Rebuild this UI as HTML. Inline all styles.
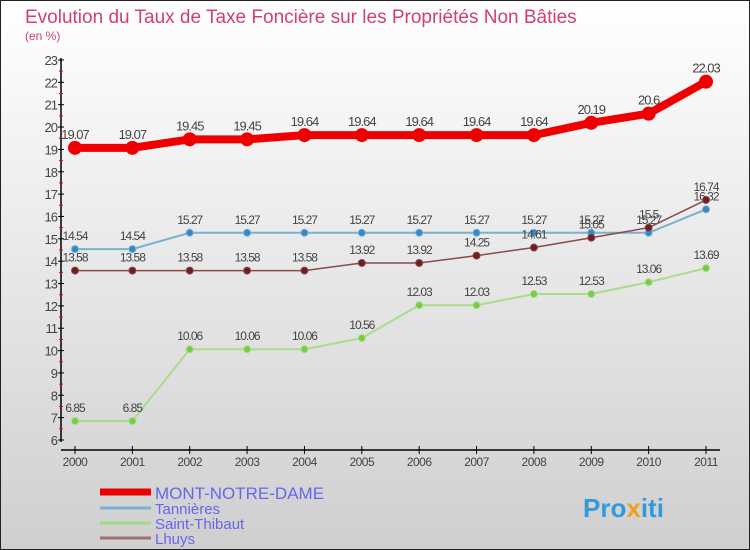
<!DOCTYPE html>
<html><head><meta charset="utf-8"><style>
body{margin:0}
#c{width:750px;height:550px;position:relative;overflow:hidden;font-family:"Liberation Sans",sans-serif}
</style></head><body>
<div id="c">
<svg id="s" width="750" height="550" xmlns="http://www.w3.org/2000/svg">
<defs><linearGradient id="bg" x1="0" y1="0" x2="0" y2="1"><stop offset="0" stop-color="#ffffff"/><stop offset="1" stop-color="#cfcfcf"/></linearGradient></defs>
<rect x="0.5" y="0.5" width="749" height="549" fill="url(#bg)" stroke="#222"/>
<text x="25" y="23" font-size="19" fill="#d04070">Evolution du Taux de Taxe Foncière sur les Propriétés Non Bâties</text>
<text x="25" y="40" font-size="12" fill="#d04070">(en %)</text>
<g id="axes"></g><g id="series"></g>
<g>
<line x1="100" y1="492" x2="151" y2="492" stroke="#e00" stroke-width="7"/>
<text x="155" y="499" font-size="17" fill="#6666ee">MONT-NOTRE-DAME</text>
<line x1="100" y1="508" x2="151" y2="508" stroke="#7ab0d0" stroke-width="3"/>
<text x="155" y="514" font-size="15" fill="#6666ee">Tannières</text>
<line x1="100" y1="523" x2="151" y2="523" stroke="#9fdc80" stroke-width="3"/>
<text x="155" y="529" font-size="15" fill="#6666ee">Saint-Thibaut</text>
<line x1="100" y1="538" x2="151" y2="538" stroke="#a07070" stroke-width="3"/>
<text x="155" y="544" font-size="15" fill="#6666ee">Lhuys</text>
</g>
<g><text x="583" y="517" font-size="26" font-weight="bold" fill="#3399dd">Pro<tspan fill="#f0a020">x</tspan>iti</text></g>
</svg>
</div>
<script>
const years=[2000,2001,2002,2003,2004,2005,2006,2007,2008,2009,2010,2011];
const yTicks=[6,7,8,9,10,11,12,13,14,15,16,17,18,19,20,21,22,23];
const montNotreDame=[19.07,19.07,19.45,19.45,19.64,19.64,19.64,19.64,19.64,20.19,20.6,22.03];
const tannieres=[14.54,14.54,15.27,15.27,15.27,15.27,15.27,15.27,15.27,15.27,15.27,16.32];
const saintThibaut=[6.85,6.85,10.06,10.06,10.06,10.56,12.03,12.03,12.53,12.53,13.06,13.69];
const lhuys=[13.58,13.58,13.58,13.58,13.58,13.92,13.92,14.25,14.61,15.05,15.5,16.74];
const NS="http://www.w3.org/2000/svg";
const X=i=>75+i*(706-75)/(years.length-1);
const Y=v=>440-(v-6)*(380/17);
function mk(t,a,p){const e=document.createElementNS(NS,t);for(const k in a)e.setAttribute(k,a[k]);p.appendChild(e);return e;}
const ax=document.getElementById('axes');
let e=mk('line',{x1:61,y1:58,x2:61,y2:442,stroke:'#000','stroke-width':1.5},ax);


e=mk('line',{x1:61,y1:450,x2:720,y2:450,stroke:'#000','stroke-width':1.5},ax);


yTicks.forEach(v=>{
 mk('line',{x1:58,x2:64,y1:Y(v),y2:Y(v),stroke:'#000'},ax);
 if(v<23)mk('line',{x1:59,x2:63,y1:Y(v+0.5),y2:Y(v+0.5),stroke:'#e00'},ax);
 const t=mk('text',{x:57,y:Y(v)+5,'text-anchor':'end','font-size':13,fill:'#444','letter-spacing':'-1'},ax);
 t.textContent=v;
 
 
});
years.forEach((y,i)=>{
 mk('line',{x1:X(i),x2:X(i),y1:446,y2:454,stroke:'#000'},ax);
 const t=mk('text',{x:X(i),y:466,'text-anchor':'middle','font-size':12,fill:'#444','letter-spacing':'-0.5'},ax);
 t.textContent=y;
 
 
});
const sg=document.getElementById('series');
function series(vals,color,w,r,dot,name,fs){
 const g=mk('g',{},sg);
 
 
 mk('polyline',{points:vals.map((v,i)=>X(i)+','+Y(v)).join(' '),fill:'none',stroke:color,'stroke-width':w},g);
 vals.forEach((v,i)=>{
  const c=mk('circle',{cx:X(i),cy:Y(v),r:r,fill:dot,stroke:color,'stroke-width':1},g);
  
  
  const t=mk('text',{x:X(i),y:Y(v)-9,'text-anchor':'middle','font-size':fs,fill:'#444','letter-spacing':'-1'},g);
  t.textContent=v;
  
  
 });
}
series(saintThibaut,'#a8dc88',2,3.5,'#77cc44','saint-thibaut',12);
series(tannieres,'#7ab0d0',2,3.5,'#3388cc','tannieres',12);
series(lhuys,'#8a4a4a',1.5,3.5,'#6a2020','lhuys',12);
series(montNotreDame,'#ee0000',8,6.5,'#ee0000','mont-notre-dame',13);
</script>
</body></html>
